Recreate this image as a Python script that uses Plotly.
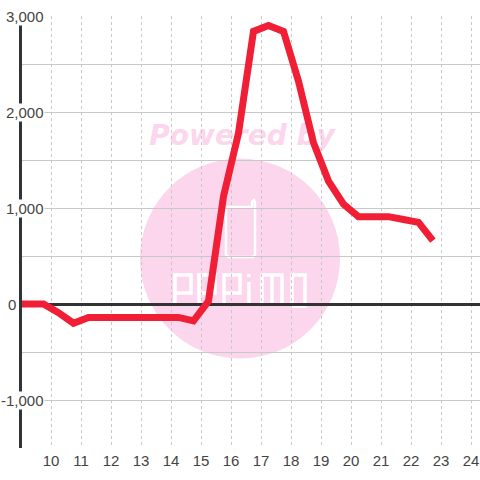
import plotly.graph_objects as go

# half hour readings
hours = [8.87, 9.25, 9.75, 10.25, 10.75, 11.25, 11.75, 12.25, 12.75, 13.25, 13.75, 14.25, 14.75,
         15.25, 15.75, 16.25, 16.75, 17.25, 17.75, 18.25, 18.75, 19.25, 19.75, 20.25, 20.75,
         21.25, 21.75, 22.25, 22.73]
values = [0, 0, 0, -90, -200, -140, -140, -140, -140, -140, -140, -140, -175,
          30, 1120, 1780, 2840, 2900, 2840, 2320, 1680, 1280, 1040, 910, 910,
          910, 880, 850, 660]

x_ticks = list(range(10, 25))
x_tick_labels = [str(h) for h in x_ticks]
y_labels = ['3,000', '2,000', '1,000', '0', '-1,000']
y_label_vals = [3000, 2000, 1000, 0, -1000]
y_label_shift = [23, 23, 23, -5, 23]

WIDTH, HEIGHT = 480, 480
LEFT, TOP, RIGHT, BOTTOM = 22, 16, 480, 448


def px(x):
    return (x - LEFT) / (RIGHT - LEFT)


def py(y):
    return (BOTTOM - y) / (BOTTOM - TOP)


def path(points):
    # points are screen pixels, None starts a new stroke
    out, new = [], True
    for p in points:
        if p is None:
            new = True
            continue
        out.append(('M' if new else 'L') + f'{px(p[0]):.5f},{py(p[1]):.5f}')
        new = False
    return ' '.join(out)


fig = go.Figure()

fig.add_trace(go.Scatter(
    x=hours, y=values, mode='lines', cliponaxis=False, hoverinfo='skip',
    line=dict(color='#F01F35', width=7),
))

# watermark sits under the grid
PINK = '#FBD6EC'
shapes = [
    dict(type='circle', xref='paper', yref='paper', layer='below',
         x0=px(140), x1=px(340), y0=py(358.5), y1=py(158.5),
         fillcolor=PINK, line_width=0),
    dict(type='rect', xref='paper', yref='paper', layer='below',
         x0=px(140), x1=px(344), y0=py(149), y1=py(117),
         fillcolor='rgba(0,0,0,0)', line_width=0,
         label=dict(text='Powered by', textposition='middle center',
                    font=dict(family='DejaVu Sans', size=28, color=PINK, weight=700, style='italic'))),
    dict(type='path', xref='paper', yref='paper', layer='below',
         path=path([(253, 207), (228, 207), (226, 209), (226, 255), (228, 257), (253, 257), (255, 255),
                    (255, 202), (254, 200), (252, 202), (252, 207)]),
         line=dict(color='white', width=2.5)),
    dict(type='path', xref='paper', yref='paper', layer='below',
         path=path([(175, 306), (175, 275), (191, 275), (191, 293), (175, 293), None,
                    (199, 306), (199, 275), (215, 275), (215, 293), (199, 293), None,
                    (224, 306), (224, 275), (240, 275), (240, 293), (224, 293), None,
                    (249, 306), (249, 282), None, (249, 274), (249, 277), None,
                    (262, 306), (262, 275), (282, 275), (282, 306), None, (272, 275), (272, 306), None,
                    (292, 306), (292, 275), (305, 275), (305, 306), (292, 306)]),
         line=dict(color='white', width=3.5)),
]

# y labels need a white box, the axis line and grid are hidden behind them
annotations = [
    dict(xref='paper', yref='y', x=0, y=v, text=t, showarrow=False, xanchor='right', xshift=s,
         bgcolor='white', borderpad=0, font=dict(family='Liberation Sans', size=15, color='#444444'))
    for t, v, s in zip(y_labels, y_label_vals, y_label_shift)
]

fig.update_layout(
    width=WIDTH, height=HEIGHT,
    margin=dict(l=LEFT, r=WIDTH - RIGHT, t=TOP, b=HEIGHT - BOTTOM),
    paper_bgcolor='white', plot_bgcolor='rgba(0,0,0,0)',
    showlegend=False,
    shapes=shapes,
    annotations=annotations,
    xaxis=dict(
        range=[9.0333, 24.3], tickvals=x_ticks, ticktext=x_tick_labels, ticks='', ticklabelstandoff=2,
        showgrid=True, gridcolor='#C8C8C8', griddash='dot', gridwidth=1,
        zeroline=False, showline=False,
        tickfont=dict(family='Liberation Sans', size=15, color='#444444'),
    ),
    yaxis=dict(
        range=[-1500, 3000], dtick=500, showticklabels=False, ticks='', layer='below traces',
        showgrid=True, gridcolor='#C8C8C8', gridwidth=1,
        zeroline=True, zerolinecolor='#333333', zerolinewidth=3,
        showline=True, linecolor='#333333', linewidth=3,
    ),
)

fig.write_html("out.html", config=dict(displayModeBar=False),
               post_script="document.body.style.margin='0';document.body.style.overflow='hidden';")
